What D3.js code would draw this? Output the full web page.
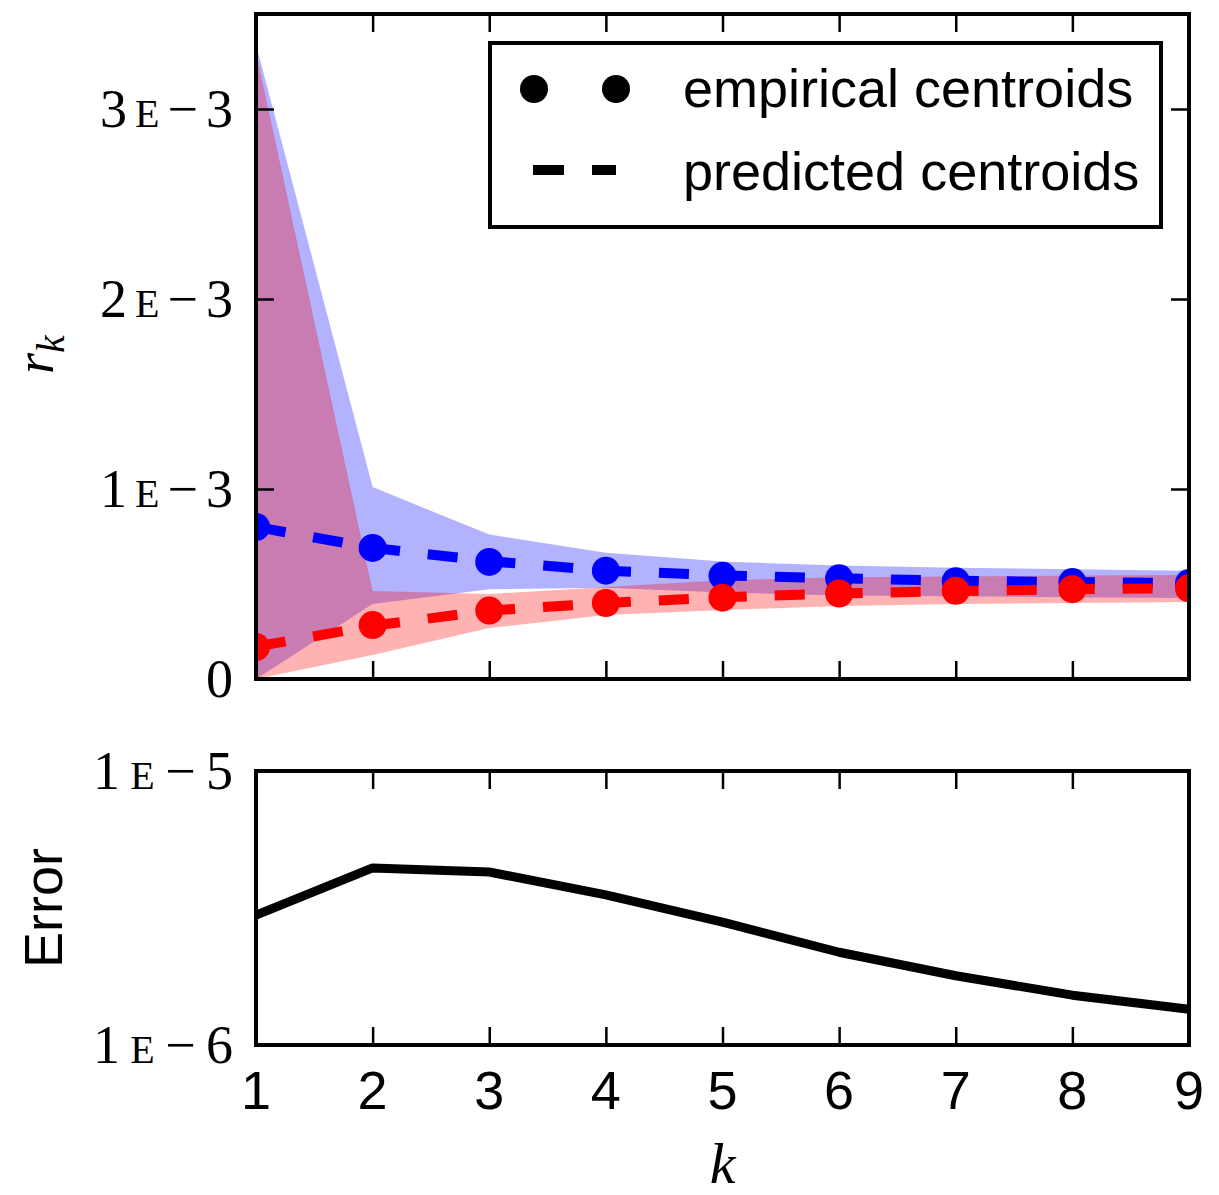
<!DOCTYPE html>
<html>
<head>
<meta charset="utf-8">
<script src="https://cdn.jsdelivr.net/npm/d3@7"></script>
<style>
  body { margin: 0; background: #fff; }
</style>
</head>
<body>
<div class="canvas"></div>
<script>
// data (units of 1E-3 for the centroids)
var ks = [1, 2, 3, 4, 5, 6, 7, 8, 9]

var blueEmpirical = [0.80, 0.69, 0.616, 0.57, 0.543, 0.53, 0.515, 0.51, 0.505]
var redEmpirical  = [0.168, 0.284, 0.36, 0.40, 0.428, 0.45, 0.464, 0.473, 0.477]
var bluePredicted = [0.80, 0.69, 0.62, 0.57, 0.545, 0.53, 0.517, 0.51, 0.505]
var redPredicted  = [0.17, 0.28, 0.36, 0.40, 0.43, 0.45, 0.463, 0.472, 0.478]

var blueUpper = [3.34, 1.01, 0.76, 0.665, 0.618, 0.597, 0.585, 0.578, 0.57]
var blueLower = [0.0, 0.395, 0.473, 0.48, 0.455, 0.44, 0.435, 0.43, 0.426]
var redUpper  = [3.30, 0.463, 0.447, 0.484, 0.52, 0.535, 0.54, 0.545, 0.547]
var redLower  = [0.0, 0.126, 0.268, 0.337, 0.363, 0.384, 0.395, 0.40, 0.405]

// error, units of 1E-6
var errorValues = [2.98, 4.43, 4.28, 3.53, 2.81, 2.18, 1.79, 1.52, 1.35]

var topTicks = [0, 1, 2, 3]
var topTickLabels = ['0', '1', '2', '3']   // mantissa, exponent -3
var errTicks = [1e-6, 1e-5]
var errTickLabels = [['1', '\u22126'], ['1', '\u22125']]

var svg = d3.select(".canvas").append("svg").attr("width", 1219).attr("height", 1195)

var left = 256, right = 1189
var top1 = 14, bottom1 = 679
var top2 = 771, bottom2 = 1045
var tickLen = 18
var sans = "'Liberation Sans', Arial, sans-serif"
var serif = "'Liberation Serif', 'Times New Roman', serif"

var x = d3.scaleLinear().domain([1, 9]).range([left, right])
var y = d3.scaleLinear().domain([0, 3.5]).range([bottom1, top1])
var yErr = d3.scaleLog().domain([1e-6, 1e-5]).range([bottom2, top2])

// clip for the top panel
svg.append('clipPath').attr('id', 'clipTop')
    .append('rect')
    .attr('x', left).attr('y', top1)
    .attr('width', right - left).attr('height', bottom1 - top1)

var plot = svg.append('g').attr('clip-path', 'url(#clipTop)')

function band(lo, hi) {
    return d3.area()
        .x(function(d, i) { return x(ks[i]) })
        .y0(function(d, i) { return y(lo[i]) })
        .y1(function(d, i) { return y(hi[i]) })(ks)
}

// bands: blue first, red over it (overlap goes purple)
plot.append('path').attr('d', band(blueLower, blueUpper))
    .attr('fill', 'blue').attr('fill-opacity', 0.3)
plot.append('path').attr('d', band(redLower, redUpper))
    .attr('fill', 'red').attr('fill-opacity', 0.3)

var line = d3.line()
    .x(function(d, i) { return x(ks[i]) })
    .y(function(d) { return y(d) })

function series(pred, emp, colour) {
    plot.append('path')
        .attr('d', line(pred))
        .attr('fill', 'none')
        .attr('stroke', colour)
        .attr('stroke-width', 10)
        .attr('stroke-dasharray', '30,28')
    plot.selectAll('.dot_' + colour)
        .data(emp)
        .enter().append('circle')
        .attr('class', 'dot_' + colour)
        .attr('cx', function(d, i) { return x(ks[i]) })
        .attr('cy', function(d) { return y(d) })
        .attr('r', 14)
        .attr('fill', colour)
}
series(bluePredicted, blueEmpirical, 'blue')
series(redPredicted, redEmpirical, 'red')

// inward ticks on all four sides of a panel
function frame(yScale, yTickVals, t, b) {
    var g = svg.append('g')
    g.append('g').attr('transform', 'translate(0,' + b + ')')
        .call(d3.axisBottom(x).tickValues(ks).tickSize(-tickLen).tickFormat(''))
    g.append('g').attr('transform', 'translate(0,' + t + ')')
        .call(d3.axisTop(x).tickValues(ks).tickSize(-tickLen).tickFormat(''))
    g.append('g').attr('transform', 'translate(' + left + ',0)')
        .call(d3.axisLeft(yScale).tickValues(yTickVals).tickSize(-tickLen).tickFormat(''))
    g.append('g').attr('transform', 'translate(' + right + ',0)')
        .call(d3.axisRight(yScale).tickValues(yTickVals).tickSize(-tickLen).tickFormat(''))
    g.selectAll('.domain').remove()
    g.selectAll('.tick line').attr('stroke', 'black').attr('stroke-width', 2.5)
    g.append('rect')
        .attr('x', left).attr('y', t)
        .attr('width', right - left).attr('height', b - t)
        .attr('fill', 'none').attr('stroke', 'black').attr('stroke-width', 4)
}
frame(y, topTicks, top1, bottom1)

// error panel
svg.append('path')
    .attr('d', d3.line()
        .x(function(d, i) { return x(ks[i]) })
        .y(function(d) { return yErr(d * 1e-6) })(errorValues))
    .attr('fill', 'none')
    .attr('stroke', 'black')
    .attr('stroke-width', 9)
    .attr('stroke-linejoin', 'round')

frame(yErr, errTicks, top2, bottom2)

// "3E-3" style label with a small-cap E, stretched to the reference width
function sciLabel(mant, expo, yPos, width) {
    var t = svg.append('text')
        .attr('x', left - 23).attr('y', yPos).attr('dy', '0.34em')
        .attr('text-anchor', 'end')
        .attr('font-family', serif).attr('font-size', 54)
        .attr('textLength', width).attr('lengthAdjust', 'spacing')
    t.append('tspan').text(mant)
    t.append('tspan').attr('font-size', 40).text('E')
    t.append('tspan').text(expo)
}

topTicks.forEach(function(v, i) {
    if (v == 0) {
        svg.append('text')
            .attr('x', left - 23).attr('y', y(v)).attr('dy', '0.34em')
            .attr('text-anchor', 'end')
            .attr('font-family', serif).attr('font-size', 54)
            .text('0')
        return
    }
    sciLabel(topTickLabels[i], '\u22123', y(v), 133)
})

errTicks.forEach(function(v, i) {
    sciLabel(errTickLabels[i][0], errTickLabels[i][1], yErr(v), 140)
})

// x tick labels under the error panel
svg.selectAll('.xlab')
    .data(ks)
    .enter().append('text')
    .attr('class', 'xlab')
    .attr('x', function(d) { return x(d) })
    .attr('y', bottom2 + 64)
    .attr('text-anchor', 'middle')
    .attr('font-family', sans).attr('font-size', 54)
    .text(function(d) { return d })

// axis titles
var rk = svg.append('text')
    .attr('transform', 'translate(53,' + ((top1 + bottom1) / 2 + 8) + ') rotate(-90)')
    .attr('text-anchor', 'middle')
    .attr('font-family', serif).attr('font-style', 'italic').attr('font-size', 54)
rk.append('tspan').text('r')
rk.append('tspan').attr('font-size', 40).attr('dy', 11).text('k')

svg.append('text')
    .attr('transform', 'translate(62,' + ((top2 + bottom2) / 2) + ') rotate(-90)')
    .attr('text-anchor', 'middle')
    .attr('font-family', sans).attr('font-size', 54)
    .text('Error')

svg.append('text')
    .attr('x', x(5)).attr('y', 1183)
    .attr('text-anchor', 'middle')
    .attr('font-family', serif).attr('font-style', 'italic').attr('font-size', 58)
    .text('k')

// legend
var legend = svg.append('g')
legend.append('rect')
    .attr('x', 490).attr('y', 43).attr('width', 671).attr('height', 184)
    .attr('fill', 'white').attr('stroke', 'black').attr('stroke-width', 4)
legend.selectAll('.legdot')
    .data([534, 616])
    .enter().append('circle')
    .attr('class', 'legdot')
    .attr('cx', function(d) { return d }).attr('cy', 89).attr('r', 14)
    .attr('fill', 'black')
legend.append('line')
    .attr('x1', 533).attr('x2', 616).attr('y1', 170).attr('y2', 170)
    .attr('stroke', 'black').attr('stroke-width', 10)
    .attr('stroke-dasharray', '31,28')
legend.append('text')
    .attr('x', 683).attr('y', 107)
    .attr('font-family', sans).attr('font-size', 54)
    .text('empirical centroids')
legend.append('text')
    .attr('x', 683).attr('y', 190)
    .attr('font-family', sans).attr('font-size', 54)
    .text('predicted centroids')
</script>
</body>
</html>
